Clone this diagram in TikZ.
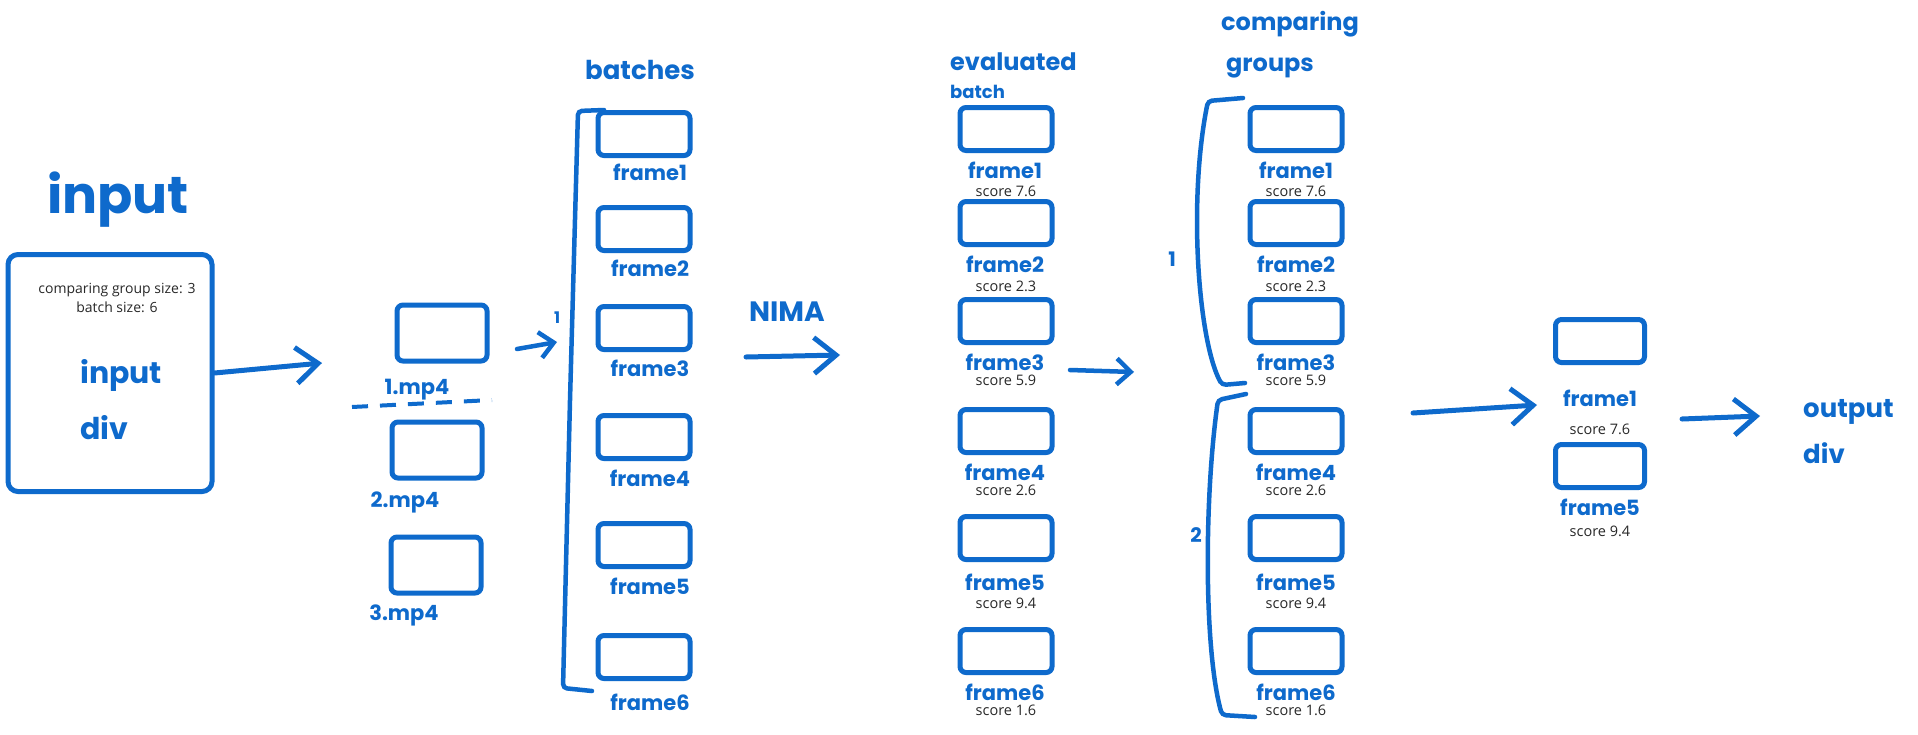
\documentclass[tikz,border=0pt]{standalone}
\usepackage{fontspec}
\setmainfont{Open Sans}
\newfontfamily\hand{Poppins}
\usetikzlibrary{arrows.meta}
\definecolor{ink}{RGB}{14,106,204}
\definecolor{txt}{RGB}{40,40,40}
\definecolor{dotc}{RGB}{230,230,230}
\tikzset{
  fbox/.style={draw=ink, line width=5pt, rounded corners=6pt, minimum width=92pt, minimum height=43pt, inner sep=0pt},
  vbox/.style={fbox, minimum width=90pt, minimum height=56pt},
  flabel/.style={text=ink, anchor=base, inner sep=0pt, font=\hand\bfseries\fontsize{21}{24}\selectfont},
  score/.style={text=txt, anchor=base, inner sep=0pt, font=\fontsize{14.5}{17}\selectfont},
  handtxt/.style={text=ink, inner sep=0pt, font=\hand\bfseries\fontsize{#1}{#1}\selectfont},
  harrow/.style={ink, line width=5pt, line cap=round, -{Straight Barb[length=22pt, width=36pt]}},
  sarrow/.style={ink, line width=4.5pt, line cap=round, -{Straight Barb[length=14pt, width=26pt]}},
  bracket/.style={ink, line width=4.5pt, line cap=round, rounded corners=4pt}
}
\begin{document}
\begin{tikzpicture}[x=1pt, y=-1pt]
    \useasboundingbox (0,0) rectangle (1918,734);
    \fill[white] (0,0) rectangle (1918,734);
    % dotted background
    \foreach \r in {0,...,54}
        \draw[dotc, line width=3pt, line cap=rect, dash pattern=on 0pt off 13.33pt] (7,{7+\r*13.33}) -- (1918,{7+\r*13.33});

    % Input
    \node (intitle) [handtxt=52] at (118,200) {input};
    \node (inbox) [draw=ink, line width=5pt, rounded corners=10pt, minimum width=204pt, minimum height=237pt] at (110,373) {};
    \node (cfg) [text=txt, align=center, font=\fontsize{14}{19}\selectfont] at (117,298) {comparing group size: 3\\batch size: 6};
    \node (indiv) [handtxt=30, align=left, font=\hand\bfseries\fontsize{30}{56}\selectfont, anchor=west] at (80,400) {input\\div};

    % Videos
    \node (v1) [vbox] at (442,333) {};
    \node (v2) [vbox] at (437,450) {};
    \node (v3) [vbox] at (436,565) {};
    \node (v1l) [flabel] at (417,394) {1.mp4};
    \node (v2l) [flabel] at (405,507) {2.mp4};
    \node (v3l) [flabel] at (404,620) {3.mp4};
    \draw[ink, line width=4pt, dash pattern=on 16pt off 12pt] (352,407) -- (492,400);

    % Batches
    \node (btitle) [handtxt=26] at (640,70) {batches};
    \node (b1) [fbox] at (644,134) {};
    \node (b2) [fbox] at (644,229) {};
    \node (b3) [fbox] at (644,328) {};
    \node (b4) [fbox] at (644,437) {};
    \node (b5) [fbox] at (644,545) {};
    \node (b6) [fbox] at (644,657) {};
    \node (b1l) [flabel] at (650,180) {frame1};
    \node (b2l) [flabel] at (650,276) {frame2};
    \node (b3l) [flabel] at (650,376) {frame3};
    \node (b4l) [flabel] at (650,486) {frame4};
    \node (b5l) [flabel] at (650,594) {frame5};
    \node (b6l) [flabel] at (650,710) {frame6};
    \draw[bracket] (604,110) -- (578,111) -- (570,400) -- (563,688) -- (592,691);

    % Evaluated batch
    \node (etitle) [handtxt=24, anchor=west] at (950,62) {evaluated};
    \node (etitle2) [handtxt=18, anchor=west] at (950,92) {batch};
    \node (e1) [fbox] at (1006,129) {};
    \node (e2) [fbox] at (1006,223) {};
    \node (e3) [fbox] at (1006,321) {};
    \node (e4) [fbox] at (1006,431) {};
    \node (e5) [fbox] at (1006,538) {};
    \node (e6) [fbox] at (1006,651) {};
    \node (e1l) [flabel] at (1005,178) {frame1};
    \node (e2l) [flabel] at (1005,272) {frame2};
    \node (e3l) [flabel] at (1005,370) {frame3};
    \node (e4l) [flabel] at (1005,480) {frame4};
    \node (e5l) [flabel] at (1005,590) {frame5};
    \node (e6l) [flabel] at (1005,700) {frame6};
    \node (e1s) [score] at (1006,196) {score 7.6};
    \node (e2s) [score] at (1006,291) {score 2.3};
    \node (e3s) [score] at (1006,385) {score 5.9};
    \node (e4s) [score] at (1006,495) {score 2.6};
    \node (e5s) [score] at (1006,608) {score 9.4};
    \node (e6s) [score] at (1006,715) {score 1.6};

    % Comparing groups
    \node (gtitle) [handtxt=24] at (1290,24) {comparing};
    \node (gtitle2) [handtxt=24] at (1270,68) {groups};
    \node (g1) [fbox] at (1296,129) {};
    \node (g2) [fbox] at (1296,223) {};
    \node (g3) [fbox] at (1296,321) {};
    \node (g4) [fbox] at (1296,431) {};
    \node (g5) [fbox] at (1296,538) {};
    \node (g6) [fbox] at (1296,651) {};
    \node (g1l) [flabel] at (1296,178) {frame1};
    \node (g2l) [flabel] at (1296,272) {frame2};
    \node (g3l) [flabel] at (1296,370) {frame3};
    \node (g4l) [flabel] at (1296,480) {frame4};
    \node (g5l) [flabel] at (1296,590) {frame5};
    \node (g6l) [flabel] at (1296,700) {frame6};
    \node (g1s) [score] at (1296,196) {score 7.6};
    \node (g2s) [score] at (1296,291) {score 2.3};
    \node (g3s) [score] at (1296,385) {score 5.9};
    \node (g4s) [score] at (1296,495) {score 2.6};
    \node (g5s) [score] at (1296,608) {score 9.4};
    \node (g6s) [score] at (1296,715) {score 1.6};
    \draw[bracket] (1243,98) -- (1208,101) .. controls (1188,200) and (1198,340) .. (1222,385) -- (1245,383);
    \draw[bracket] (1246,394) -- (1218,400) .. controls (1204,500) and (1204,650) .. (1222,715) -- (1255,717);
    \node (gn1) [handtxt=20] at (1172,259) {1};
    \node (gn2) [handtxt=20] at (1196,535) {2};

    % Result
    \node (r1) [fbox, minimum width=89pt] at (1600,341) {};
    \node (r2) [fbox, minimum width=89pt] at (1600,466) {};
    \node (r1l) [flabel] at (1600,406) {frame1};
    \node (r1s) [score] at (1600,434) {score 7.6};
    \node (r2l) [flabel] at (1600,515) {frame5};
    \node (r2s) [score] at (1600,536) {score 9.4};

    % Output
    \node (outdiv) [handtxt=26, align=left, font=\hand\bfseries\fontsize{26}{46}\selectfont, anchor=west] at (1803,432) {output\\div};

    % Arrows
    \coordinate (a1) at (322,363);
    \coordinate (a2s) at (517,349);
    \coordinate (a2e) at (557,342);
    \coordinate (n1) at (746,357);
    \coordinate (n2) at (840,355);
    \coordinate (c1) at (1070,370);
    \coordinate (c2) at (1134,372);
    \coordinate (d1) at (1413,413);
    \coordinate (d2) at (1537,405);
    \coordinate (o1) at (1682,419);
    \coordinate (o2) at (1760,416);
    \draw[harrow] (inbox.east) -- (a1);
    \draw[sarrow] (a2s) -- (a2e);
    \node (bn1) [handtxt=16] at (557,318) {1};
    \node (nima) [handtxt=28] at (787,312) {NIMA};
    \draw[harrow] (n1) -- (n2);
    \draw[sarrow] (c1) -- (c2);
    \draw[harrow] (d1) -- (d2);
    \draw[harrow] (o1) -- (o2);

\end{tikzpicture}
\end{document}
